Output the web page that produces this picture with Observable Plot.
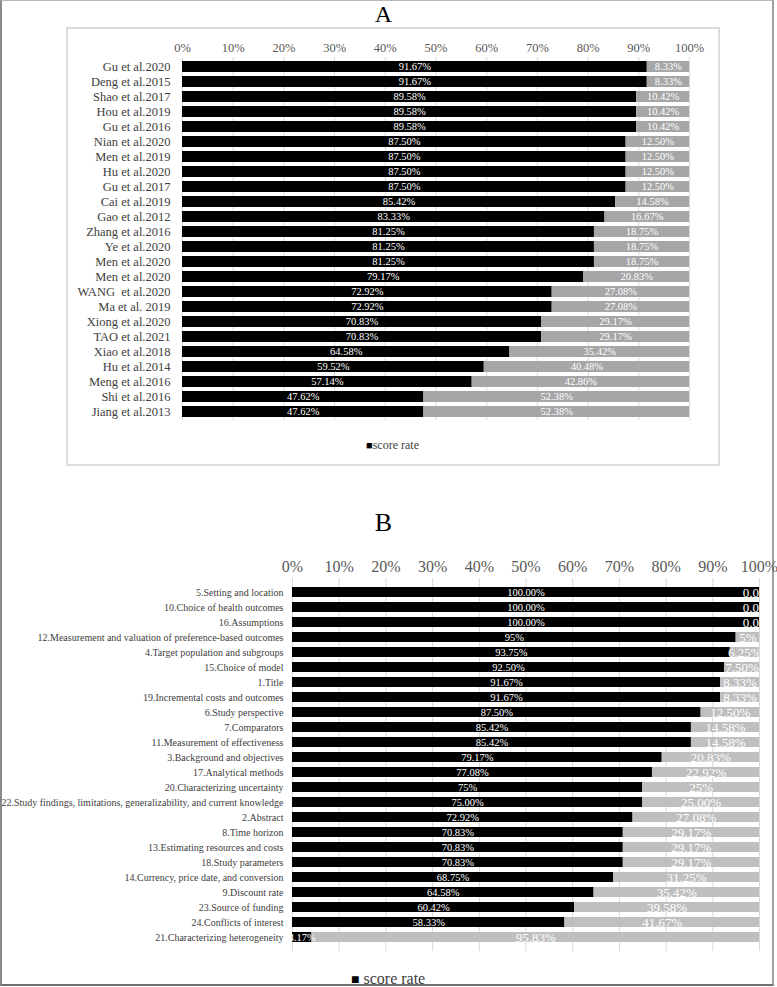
<!DOCTYPE html>
<html>
<head>
<meta charset="utf-8">
<script src="https://cdn.jsdelivr.net/npm/d3@7"></script>
<script src="https://cdn.jsdelivr.net/npm/@observablehq/plot@0.6"></script>
<style>
  html, body { margin: 0; padding: 0; background: #fff; }
  #page { position: relative; width: 777px; height: 987px; overflow: hidden; font-family: "Liberation Serif", serif; background: #fff; }
  .abs { position: absolute; }
  #page svg { background: transparent !important; }
</style>
</head>
<body>
<div id="page">
  <div class="abs" style="left:0;top:0;width:770px;height:983px;border-left:2px solid #8a8a8a;border-top:1px solid #b8b8b8;border-right:2px solid #a0a0a0;border-bottom:2px solid #707070;"></div>
  <div class="abs" style="left:66px;top:27px;width:650px;height:435px;border:2px solid #dcdcdc;"></div>
  <div class="abs" style="left:0;width:767px;text-align:center;font-size:24px;line-height:28px;top:0px;">A</div>
  <div class="abs" style="left:0;width:767px;text-align:center;font-size:26px;line-height:30px;top:508px;">B</div>
  <div id="plotA" class="abs" style="left:0;top:0;"></div>
  <div id="plotB" class="abs" style="left:0;top:490px;"></div>
  <div class="abs" style="left:366px;top:438px;font-size:12px;color:#404040;white-space:nowrap;"><span style="font-size:11px;color:#000">■</span>score rate</div>
  <div class="abs" style="left:351px;top:970px;font-size:16px;color:#404040;white-space:nowrap;"><span style="font-size:14px;color:#000">■</span> score rate</div>
</div>
<script>
// ---------- Panel A data ----------
const studiesA = [
  "Gu et al.2020", "Deng et al.2015", "Shao et al.2017", "Hou et al.2019", "Gu et al.2016",
  "Nian et al.2020", "Men et al.2019", "Hu et al.2020", "Gu et al.2017", "Cai et al.2019",
  "Gao et al.2012", "Zhang et al.2016", "Ye et al.2020", "Men et al.2020", "Men et al.2020",
  "WANG  et al.2020", "Ma et al. 2019", "Xiong et al.2020", "TAO et al.2021", "Xiao et al.2018",
  "Hu et al.2014", "Meng et al.2016", "Shi et al.2016", "Jiang et al.2013"
];
const scoreA = [91.67, 91.67, 89.58, 89.58, 89.58, 87.50, 87.50, 87.50, 87.50, 85.42,
  83.33, 81.25, 81.25, 81.25, 79.17, 72.92, 72.92, 70.83, 70.83, 64.58,
  59.52, 57.14, 47.62, 47.62];
const restA = [8.33, 8.33, 10.42, 10.42, 10.42, 12.50, 12.50, 12.50, 12.50, 14.58,
  16.67, 18.75, 18.75, 18.75, 20.83, 27.08, 27.08, 29.17, 29.17, 35.42,
  40.48, 42.86, 52.38, 52.38];

// ---------- Panel B data ----------
const itemsB = [
  "5.Setting and location", "10.Choice of health outcomes", "16.Assumptions",
  "12.Measurement and valuation of preference-based outcomes", "4.Target population and subgroups",
  "15.Choice of model", "1.Title", "19.Incremental costs and outcomes", "6.Study perspective",
  "7.Comparators", "11.Measurement of effectiveness", "3.Background and objectives",
  "17.Analytical methods", "20.Characterizing uncertainty",
  "22.Study findings, limitations, generalizability, and current knowledge", "2.Abstract",
  "8.Time horizon", "13.Estimating resources and costs", "18.Study parameters",
  "14.Currency, price date, and conversion", "9.Discount rate", "23.Source of funding",
  "24.Conflicts of interest", "21.Characterizing heterogeneity"
];
const scoreB = [100, 100, 100, 95, 93.75, 92.50, 91.67, 91.67, 87.50, 85.42, 85.42, 79.17,
  77.08, 75, 75.00, 72.92, 70.83, 70.83, 70.83, 68.75, 64.58, 60.42, 58.33, 4.17];
const restB = [0, 0, 0, 5, 6.25, 7.50, 8.33, 8.33, 12.50, 14.58, 14.58, 20.83,
  22.92, 25, 25.00, 27.08, 29.17, 29.17, 29.17, 31.25, 35.42, 39.58, 41.67, 95.83];
const scoreLabelsB = ["100.00%", "100.00%", "100.00%", "95%", "93.75%", "92.50%", "91.67%", "91.67%",
  "87.50%", "85.42%", "85.42%", "79.17%", "77.08%", "75%", "75.00%", "72.92%", "70.83%", "70.83%",
  "70.83%", "68.75%", "64.58%", "60.42%", "58.33%", "4.17%"];
const restLabelsB = ["0.00%", "0.00%", "0.00%", "5%", "6.25%", "7.50%", "8.33%", "8.33%", "12.50%",
  "14.58%", "14.58%", "20.83%", "22.92%", "25%", "25.00%", "27.08%", "29.17%", "29.17%", "29.17%",
  "31.25%", "35.42%", "39.58%", "41.67%", "95.83%"];

const xTicks = [0, 10, 20, 30, 40, 50, 60, 70, 80, 90, 100];
const FONT = "Liberation Serif";

function buildRows(names, score, rest, sLab, rLab) {
  const rows = [];
  names.forEach((n, i) => {
    rows.push({i, part: "score", value: score[i], label: sLab[i]});
    rows.push({i, part: "rest", value: rest[i], label: rLab[i]});
  });
  return rows;
}

const rowsA = buildRows(studiesA, scoreA, restA,
  scoreA.map(v => v.toFixed(2) + "%"), restA.map(v => v.toFixed(2) + "%"));
const rowsB = buildRows(itemsB, scoreB, restB, scoreLabelsB, restLabelsB);

// ---------- Plot A ----------
const plotA = Plot.plot({
  width: 777, height: 430,
  marginLeft: 182, marginRight: 88, marginTop: 57, marginBottom: 10,
  style: {fontFamily: FONT, background: "transparent"},
  x: {domain: [0, 100], axis: null},
  y: {domain: d3.range(studiesA.length), axis: null, paddingInner: 0.27, paddingOuter: 0.2},
  color: {domain: ["score", "rest"], range: ["#000000", "#a6a6a6"]},
  marks: [
    Plot.gridX(xTicks, {stroke: "#d9d9d9", strokeOpacity: 1}),
    Plot.barX(rowsA, {x: "value", y: "i", fill: "part", order: ["score", "rest"]}),
    Plot.text(rowsA, Plot.stackX({x: "value", y: "i", z: "part", order: ["score", "rest"],
      text: "label", fill: "white", fontSize: 10.5, clip: true, fontFamily: FONT,
      fontWeight: d => d.part === "score" ? "bold" : "normal"})),
    Plot.axisX(xTicks, {anchor: "top", tickSize: 0, tickPadding: 6, fontSize: 12.5, fill: "#595959",
      tickFormat: d => d + "%", label: null, fontFamily: FONT}),
    Plot.axisY(d3.range(studiesA.length), {tickSize: 0, tickPadding: 12, fontSize: 12.5, fill: "#404040",
      tickFormat: i => studiesA[i], label: null, fontFamily: FONT})
  ]
});
document.getElementById("plotA").appendChild(plotA);

// ---------- Plot B ----------
const plotB = Plot.plot({
  width: 777, height: 497,
  marginLeft: 292, marginRight: 18, marginTop: 88, marginBottom: 36,
  style: {fontFamily: FONT, background: "transparent"},
  x: {domain: [0, 100], axis: null},
  y: {domain: d3.range(itemsB.length), axis: null, paddingInner: 0.35, paddingOuter: 0.33},
  color: {domain: ["score", "rest"], range: ["#000000", "#bfbfbf"]},
  marks: [
    Plot.gridX(xTicks, {stroke: "#d9d9d9", strokeOpacity: 1}),
    Plot.barX(rowsB, {x: "value", y: "i", fill: "part", order: ["score", "rest"]}),
    Plot.text(rowsB, Plot.stackX({x: "value", y: "i", z: "part", order: ["score", "rest"],
      text: "label", fill: "white", clip: true, fontFamily: FONT,
      fontSize: d => d.part === "score" ? 10.5 : 13})),
    Plot.axisX(xTicks, {anchor: "top", tickSize: 0, tickPadding: 7, fontSize: 16, fill: "#595959",
      tickFormat: d => d + "%", label: null, fontFamily: FONT}),
    Plot.axisY(d3.range(itemsB.length), {tickSize: 0, tickPadding: 9, fontSize: 10, fill: "#404040",
      tickFormat: i => itemsB[i], label: null, fontFamily: FONT})
  ]
});
document.getElementById("plotB").appendChild(plotB);
</script>
</body>
</html>
